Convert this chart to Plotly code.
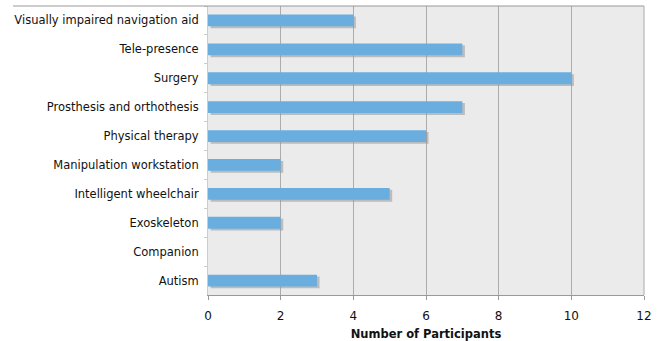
import plotly.graph_objects as go

categories = ["Visually impaired navigation aid", "Tele-presence", "Surgery",
              "Prosthesis and orthothesis", "Physical therapy", "Manipulation workstation",
              "Intelligent wheelchair", "Exoskeleton", "Companion", "Autism"]
participants = [4, 7, 10, 7, 6, 2, 5, 2, 0, 3]
x_ticks = [0, 2, 4, 6, 8, 10, 12]

FONT = "DejaVu Sans"
fig = go.Figure()

# shadow
fig.add_trace(go.Bar(
    y=categories, x=participants, base=0.07, orientation="h",
    width=0.41, offset=-0.14, marker=dict(color="rgba(150,150,150,0.55)", line=dict(width=0)),
    hoverinfo="skip", showlegend=False,
))
# main bars
fig.add_trace(go.Bar(
    y=categories, x=participants, orientation="h",
    width=0.41, offset=-0.205, marker=dict(color="#6aaee0", line=dict(width=0)),
    showlegend=False,
))

fig.update_layout(
    width=660, height=341,
    margin=dict(l=208, r=16, t=6, b=46),
    paper_bgcolor="white", plot_bgcolor="#ebebeb",
    barmode="overlay",
    font=dict(family=FONT, size=11.5, color="#111"),
    xaxis=dict(range=[0, 12], tickvals=x_ticks, ticks="outside", ticklen=4,
               tickcolor="#999", showgrid=True, gridcolor="#acacac", gridwidth=1,
               zeroline=False, showline=True, linecolor="#999", linewidth=1,
               ticklabelstandoff=6, automargin=False,
               tickfont=dict(family=FONT, size=12, color="#111"),
               title=dict(text="<b>Number of Participants</b>", standoff=9,
                          font=dict(family=FONT, size=11.5, color="#111"))),
    yaxis=dict(autorange="reversed", showgrid=False, zeroline=False,
               showline=True, linecolor="#cccccc", mirror=False,
               ticks="outside", ticklen=3, tickcolor="#cccccc", tickson="boundaries",
               ticklabelstandoff=6, automargin=False,
               tickfont=dict(family=FONT, size=11.5, color="#111")),
    shapes=[
        dict(type="line", xref="paper", yref="paper", x0=(13 - 208) / 436, x1=1, y0=1, y1=1,
             line=dict(color="#999999", width=1)),
        dict(type="line", xref="paper", yref="paper", x0=1, x1=1, y0=0, y1=1,
             line=dict(color="#aaaaaa", width=1)),
    ],
)

fig.write_html("out.html")
